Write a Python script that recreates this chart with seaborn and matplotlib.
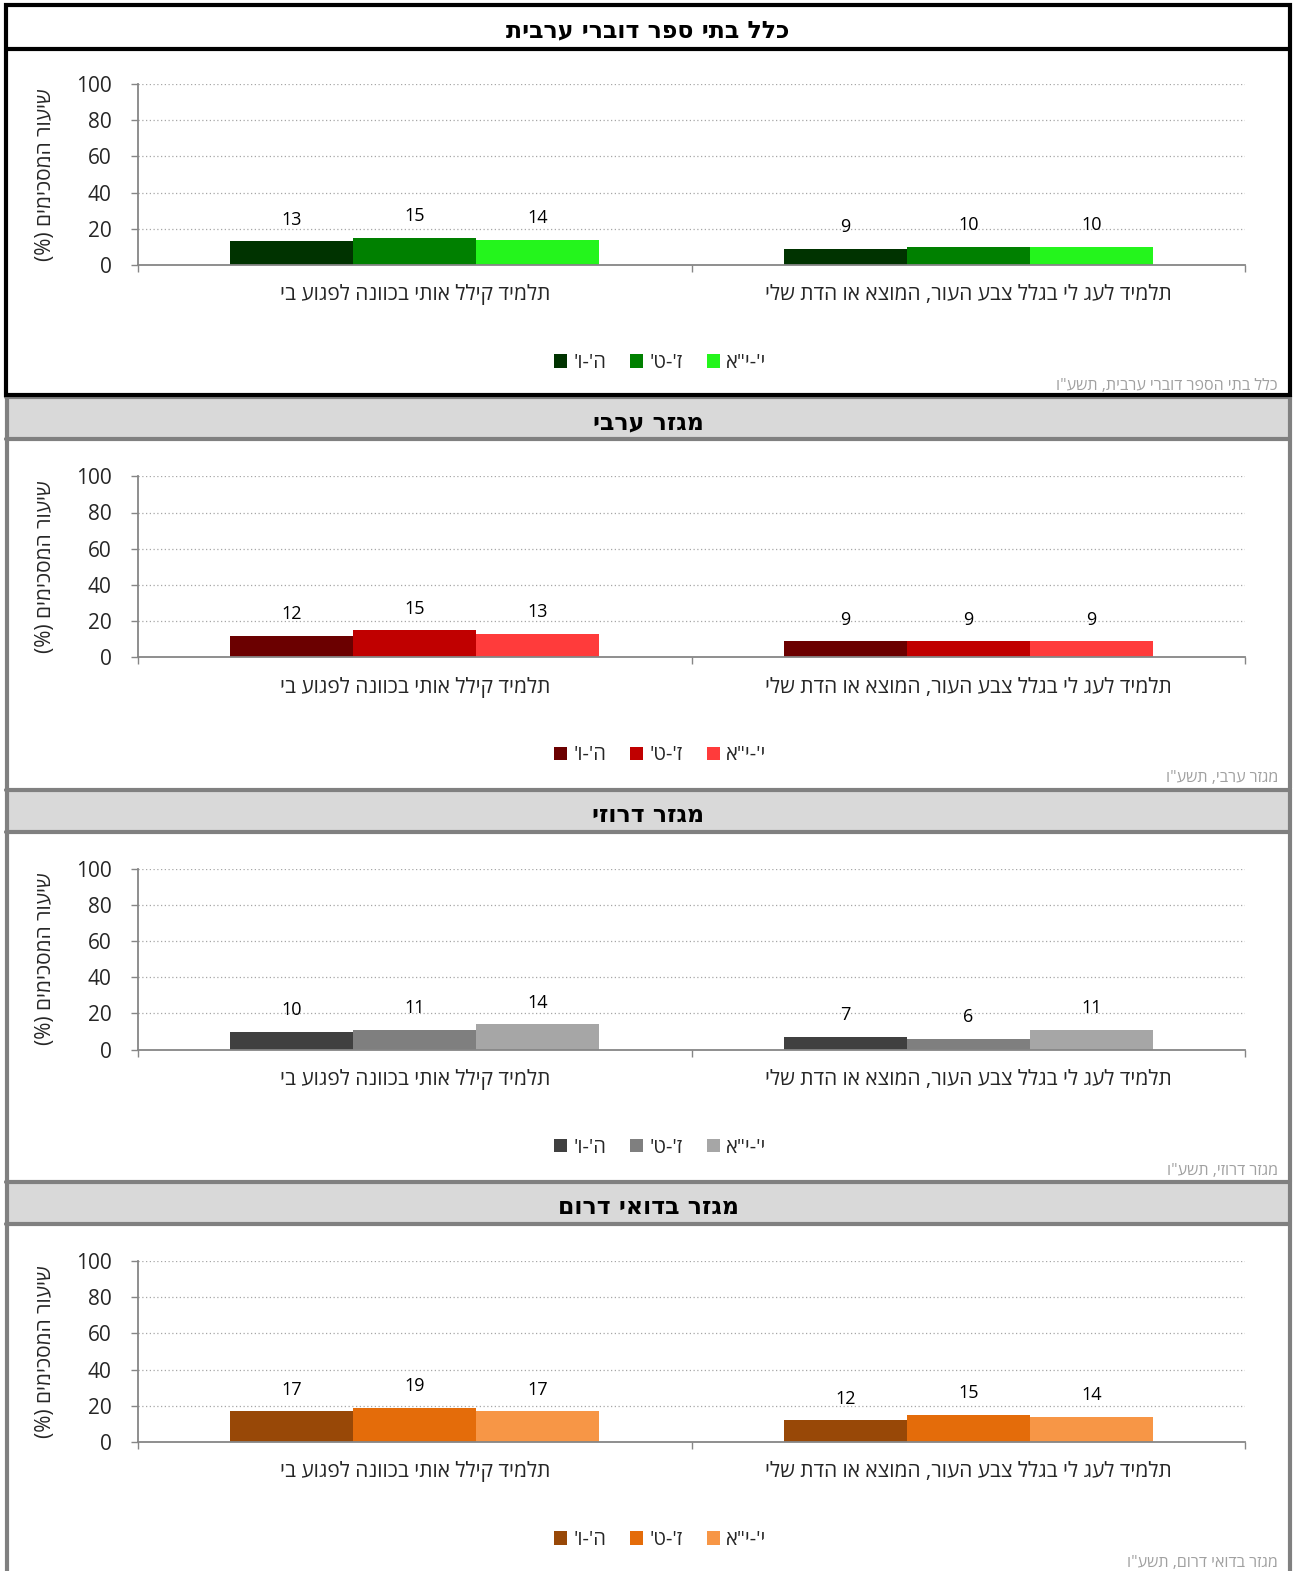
import matplotlib
matplotlib.use("Agg")
import matplotlib.pyplot as plt
import seaborn as sns
import pandas as pd
from matplotlib.patches import Rectangle, Patch
from matplotlib.lines import Line2D

sns.set_theme(style="white")
plt.rcParams['font.family'] = ['Open Sans', 'DejaVu Sans']

# ---------------- data ----------------
panel_titles = ["כלל בתי ספר דוברי ערבית", "מגזר ערבי", "מגזר דרוזי", "מגזר בדואי דרום"]
source_notes = ['כלל בתי הספר דוברי ערבית, תשע"ו', 'מגזר ערבי, תשע"ו',
                'מגזר דרוזי, תשע"ו', 'מגזר בדואי דרום, תשע"ו']
categories = ["תלמיד קילל אותי בכוונה לפגוע בי",
              "תלמיד לעג לי בגלל צבע העור, המוצא או הדת שלי"]
grades = ["ה'-ו'", "ז'-ט'", 'י\'-י"א']
y_label = "שיעור המסכימים (%)"
y_ticks = [0, 20, 40, 60, 80, 100]

values_all = {"ה'-ו'": [13, 9], "ז'-ט'": [15, 10], 'י\'-י"א': [14, 10]}
values_arab = {"ה'-ו'": [12, 9], "ז'-ט'": [15, 9], 'י\'-י"א': [13, 9]}
values_druze = {"ה'-ו'": [10, 7], "ז'-ט'": [11, 6], 'י\'-י"א': [14, 11]}
values_bedouin = {"ה'-ו'": [17, 12], "ז'-ט'": [19, 15], 'י\'-י"א': [17, 14]}
panel_values = [values_all, values_arab, values_druze, values_bedouin]

palettes = [
    ["#003300", "#008000", "#24F51C"],
    ["#6B0000", "#C00000", "#FF3B3B"],
    ["#404040", "#7F7F7F", "#A6A6A6"],
    ["#984807", "#E46C0A", "#F79646"],
]


def rtl(s):
    """Reverse a Hebrew (RTL) string for left-to-right rendering."""
    r = s[::-1]
    return r.translate(str.maketrans("()", ")("))


W, H = 1294, 1571
fig = plt.figure(figsize=(W / 100, H / 100), dpi=100)


def fx(x):
    return x / W


def fy(y):
    return 1 - y / H


PITCH = 392.3
for i in range(4):
    base = 4 + PITCH * i
    vals = panel_values[i]
    pal = palettes[i]

    # --- panel frame & header ---
    if i == 0:
        fig.patches.append(Rectangle((fx(6), fy(base + 391)), fx(1290) - fx(6),
                                     fy(base + 1) - fy(base + 391), transform=fig.transFigure,
                                     fill=False, edgecolor="black", linewidth=3, zorder=5))
        fig.lines.append(Line2D([fx(6), fx(1290)], [fy(base + 45), fy(base + 45)],
                                transform=fig.transFigure, color="black", linewidth=3, zorder=5))
    else:
        fig.patches.append(Rectangle((fx(6), fy(base + 43)), fx(1290) - fx(6),
                                     fy(base + 1) - fy(base + 43), transform=fig.transFigure,
                                     facecolor="#D9D9D9", edgecolor="none", zorder=1))
        for yy in (base + 1, base + 43):
            fig.lines.append(Line2D([fx(6), fx(1290)], [fy(yy), fy(yy)],
                                    transform=fig.transFigure, color="#808080", linewidth=3, zorder=5))
        for xx in (7, 1290):
            fig.lines.append(Line2D([fx(xx), fx(xx)], [fy(base), fy(min(base + 392, H))],
                                    transform=fig.transFigure, color="#808080", linewidth=3, zorder=5))

    fig.text(fx(648), fy(base + 26), rtl(panel_titles[i]), ha="center", va="center",
             fontsize=17, fontweight="bold", color="black",
             family=['DejaVu Sans'])

    # --- chart ---
    df = pd.DataFrame([{"category": c, "grade": g, "value": vals[g][k]}
                       for g in grades for k, c in enumerate(categories)])
    ax = fig.add_axes([fx(138), fy(base + 261), fx(1245) - fx(138), (261 - 80) / H])
    sns.barplot(data=df, x="category", y="value", hue="grade", order=categories,
                hue_order=grades, palette=pal, width=0.667, gap=0, dodge=True,
                errorbar=None, ax=ax, legend=False, saturation=1, linewidth=0)
    ax.set_xlim(-0.5, 1.5)
    ax.set_ylim(0, 100)
    ax.set_yticks(y_ticks)
    ax.set_yticklabels([str(t) for t in y_ticks], fontsize=15)
    for t in y_ticks[1:]:
        ax.axhline(t, color="#A6A6A6", linestyle=(0, (1, 2)), linewidth=0.9, zorder=0)
    ax.set_xticks([0, 1])
    ax.set_xticklabels([rtl(c) for c in categories], fontsize=15)
    ax.set_xticks([-0.5, 0.5, 1.5], minor=True)
    ax.tick_params(axis="x", which="major", length=0, pad=14)
    ax.tick_params(axis="x", which="minor", length=5, width=1, color="#868686", direction="out", bottom=True)
    ax.tick_params(axis="y", length=5, width=1, color="#868686", direction="out", left=True, pad=14)
    ax.set_xlabel("")
    ax.set_ylabel(rtl(y_label), fontsize=15, labelpad=14)
    for side in ("top", "right"):
        ax.spines[side].set_visible(False)
    for side in ("left", "bottom"):
        ax.spines[side].set_color("#868686")
        ax.spines[side].set_linewidth(1.3)
    ax.set_facecolor("none")
    for cont in ax.containers:
        ax.bar_label(cont, fmt="%d", padding=9, fontsize=13, color="black")

    # --- legend ---
    handles = [Patch(facecolor=pal[k], edgecolor="none", label=rtl(grades[k])) for k in range(3)]
    fig.legend(handles=handles, loc="center", bbox_to_anchor=(fx(660), fy(base + 359)),
               ncol=3, frameon=False, fontsize=14.5, handlelength=0.65, handleheight=0.65,
               handletextpad=0.3, columnspacing=1.2, borderaxespad=0)

    # --- source note ---
    fig.text(fx(1278), fy(base + 382), rtl(source_notes[i]), ha="right", va="center",
             fontsize=11.5, color="#A0A0A0")

fig.savefig("out.png", dpi=100)
